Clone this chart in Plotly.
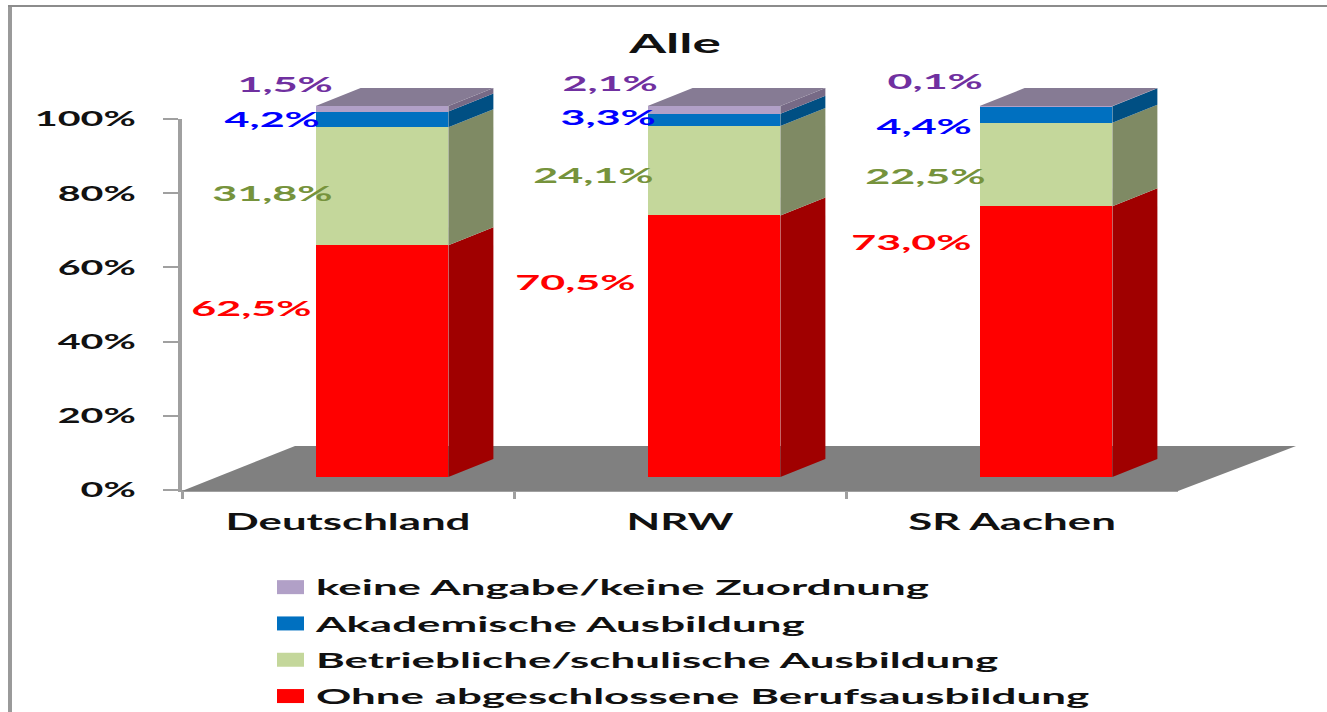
import plotly.graph_objects as go

# ---- data ----
categories = ["Deutschland", "NRW", "SR Aachen"]
ohne = [62.5, 70.5, 73.0]
betrieblich = [31.8, 24.1, 22.5]
akademisch = [4.2, 3.3, 4.4]
keine = [1.5, 2.1, 0.1]
series_names = ["Ohne abgeschlossene Berufsausbildung", "Betriebliche/schulische Ausbildung",
                "Akademische Ausbildung", "keine Angabe/keine Zuordnung"]
y_ticks = [0, 20, 40, 60, 80, 100]
y_tick_labels = ["0%", "20%", "40%", "60%", "80%", "100%"]

# ---- styles ----
W, H = 1327, 712
front = ["#FF0000", "#C4D79B", "#0070C0", "#B1A0C7"]
side = ["#A00000", "#7F8A64", "#004F83", "#776A86"]
top_col = "#867B94"
label_col = ["#FF0000", "#76933C", "#0000FF", "#7030A0"]
FONT = "Lato"
AX = "#A0A0A0"

# plot frame in pixels
X0, X1, Y0, Y1 = 182, 1178, 490, 119
SHIFT_X, SHIFT_Y = 34, 13      # front of the bars sits in front of the axis
DEPTH_X_PX, DEPTH_Y_PX = 45, 18
FLOOR_XL_PX, FLOOR_XR_PX, FLOOR_Y_PX = 113, 118, 45

unit_x = (X1 - X0) / len(categories)
unit_y = (Y0 - Y1) / 100
BAR_W = 0.4


def fx(p):
    return p / W


def fy(p):
    return 1 - p / H


# overlay axes filling the page, same scale as the visible axes, moved by the shift
ox = lambda px: (px - (X0 + SHIFT_X)) / unit_x - 0.5
oy = lambda py: ((Y0 - SHIFT_Y) - py) / unit_y

fig = go.Figure()
# carries the visible axes
fig.add_trace(go.Scatter(x=categories, y=[None] * 3, xaxis="x", yaxis="y",
                         showlegend=False, hoverinfo="skip", mode="markers"))

all_series = [ohne, betrieblich, akademisch, keine]
for rank, (name, vals, col) in enumerate(zip(series_names, all_series, front)):
    fig.add_trace(go.Bar(x=list(range(len(categories))), y=vals, name=name, width=BAR_W,
                         marker=dict(color=col, line=dict(width=0)),
                         xaxis="x2", yaxis="y2", legendgroup=name, legendrank=100 - rank, hoverinfo="y+name"))

shapes = []
dx, dy = DEPTH_X_PX / unit_x, DEPTH_Y_PX / unit_y


def poly(points, color, layer="above"):
    d = "M" + "L".join(f"{a},{b}" for a, b in points) + "Z"
    return dict(type="path", path=d, xref="x2", yref="y2", fillcolor=color,
                line=dict(width=0), layer=layer)


# floor
fl_dxl, fl_dxr, fl_dy = FLOOR_XL_PX / unit_x, FLOOR_XR_PX / unit_x, FLOOR_Y_PX / unit_y
fl_l, fl_r = ox(X0), ox(X1)
fl_b = oy(Y0 + 1)
shapes.append(poly([(fl_l, fl_b), (fl_r, fl_b), (fl_r + fl_dxr, fl_b + fl_dy), (fl_l + fl_dxl, fl_b + fl_dy)],
                   "#808080", "below"))

# side and top faces, from the stacked values
for i in range(len(categories)):
    xr = i + BAR_W / 2
    xl = i - BAR_W / 2
    base = 0
    for s, vals in enumerate(all_series):
        t = base + vals[i]
        shapes.append(poly([(xr, base), (xr + dx, base + dy), (xr + dx, t + dy), (xr, t)], side[s]))
        base = t
    shapes.append(poly([(xl, base), (xr, base), (xr + dx, base + dy), (xl + dx, base + dy)], top_col))

# outer frame
shapes.append(dict(type="line", xref="paper", yref="paper", x0=fx(10), x1=fx(10), y0=0, y1=fy(5),
                   line=dict(color="#9A9A9A", width=4)))
shapes.append(dict(type="line", xref="paper", yref="paper", x0=fx(8), x1=1, y0=fy(6), y1=fy(6),
                   line=dict(color="#8C8C8C", width=2)))

# data labels: hand-placed beside the bars, as in the picture
label_pos = {
    (0, 3): (285, 84), (0, 2): (271.5, 118), (0, 1): (272, 192), (0, 0): (251, 307),
    (1, 3): (610, 82), (1, 2): (608, 117), (1, 1): (593, 174), (1, 0): (575, 281),
    (2, 3): (935, 81), (2, 2): (923.5, 125), (2, 1): (925, 175), (2, 0): (911, 241),
}
annotations = []
for (i, s), (px, py) in label_pos.items():
    annotations.append(dict(text=f"{all_series[s][i]:.1f}%".replace(".", ","), xref="paper", yref="paper",
                            x=fx(px), y=fy(py), xanchor="center", yanchor="middle", showarrow=False,
                            font=dict(family=FONT, size=21, weight=700, color=label_col[s])))

fig.update_layout(
    width=W, height=H, autosize=False, showlegend=True,
    margin=dict(l=0, r=0, t=0, b=0, autoexpand=False),
    paper_bgcolor="white", plot_bgcolor="rgba(0,0,0,0)", barmode="stack",
    title=dict(text="Alle", x=fx(675), y=fy(44), xref="paper", yref="paper", xanchor="center", yanchor="middle",
               font=dict(family=FONT, size=27, weight=700, color="#111111")),
    xaxis=dict(domain=[fx(X0), fx(X1)], type="category", categoryorder="array", categoryarray=categories,
               range=[-0.5, 2.5], tickson="boundaries", ticks="outside", ticklen=7, tickwidth=3, tickcolor=AX,
               showline=True, linecolor=AX, linewidth=2, showgrid=False, zeroline=False, anchor="y",
               ticklabelstandoff=12, tickfont=dict(family=FONT, size=22, weight=700, color="#111111"), fixedrange=True),
    yaxis=dict(domain=[fy(Y0), fy(Y1)], range=[0, 100], tickvals=y_ticks, ticktext=y_tick_labels, ticks="outside",
               ticklen=15, tickwidth=2, tickcolor=AX, showline=True, linecolor=AX, linewidth=4, showgrid=False,
               zeroline=False, anchor="x", ticklabelstandoff=23,
               tickfont=dict(family=FONT, size=21, weight=700, color="#111111"), fixedrange=True),
    xaxis2=dict(domain=[0, 1], range=[ox(0), ox(W)], visible=False, anchor="y2", fixedrange=True),
    yaxis2=dict(domain=[0, 1], range=[oy(H), oy(0)], visible=False, anchor="x2", fixedrange=True),
    legend=dict(x=fx(276), y=fy(567), xanchor="left", yanchor="top", traceorder="grouped",
                tracegroupgap=6, itemwidth=30, bgcolor="rgba(0,0,0,0)", maxheight=1,
                font=dict(family=FONT, size=21, weight=700, color="#111111")),
    shapes=shapes, annotations=annotations,
)

# the reference's lettering is stretched sideways: widen each text about its anchor
post = """
document.body.style.margin = '0';
document.documentElement.style.overflow = 'hidden';
var groups = [['.gtitle', 1.97], ['.ytick text', 1.88], ['.xtick text', 1.99],
              ['.annotation-text', 2.05], ['.legendtext', 2.09]];
groups.forEach(function (g) {
  document.querySelectorAll(g[0]).forEach(function (t) {
    var x = parseFloat(t.getAttribute('x')) || 0;
    var old = t.getAttribute('transform') || '';
    t.setAttribute('transform', old + ' translate(' + x + ',0) scale(' + g[1] + ',1) translate(' + (-x) + ',0)');
  });
});
document.querySelectorAll('.legendpoints path').forEach(function (p) {
  p.setAttribute('d', 'M8,7H-19V-7H8Z');
});
document.querySelectorAll('.legend .scrollbox').forEach(function (b) {
  b.removeAttribute('clip-path');
});
document.querySelectorAll('.legend').forEach(function (l) {
  l.style.overflow = 'visible';
});
"""
fig.write_html("out.html", post_script=post, config={"displayModeBar": False})
